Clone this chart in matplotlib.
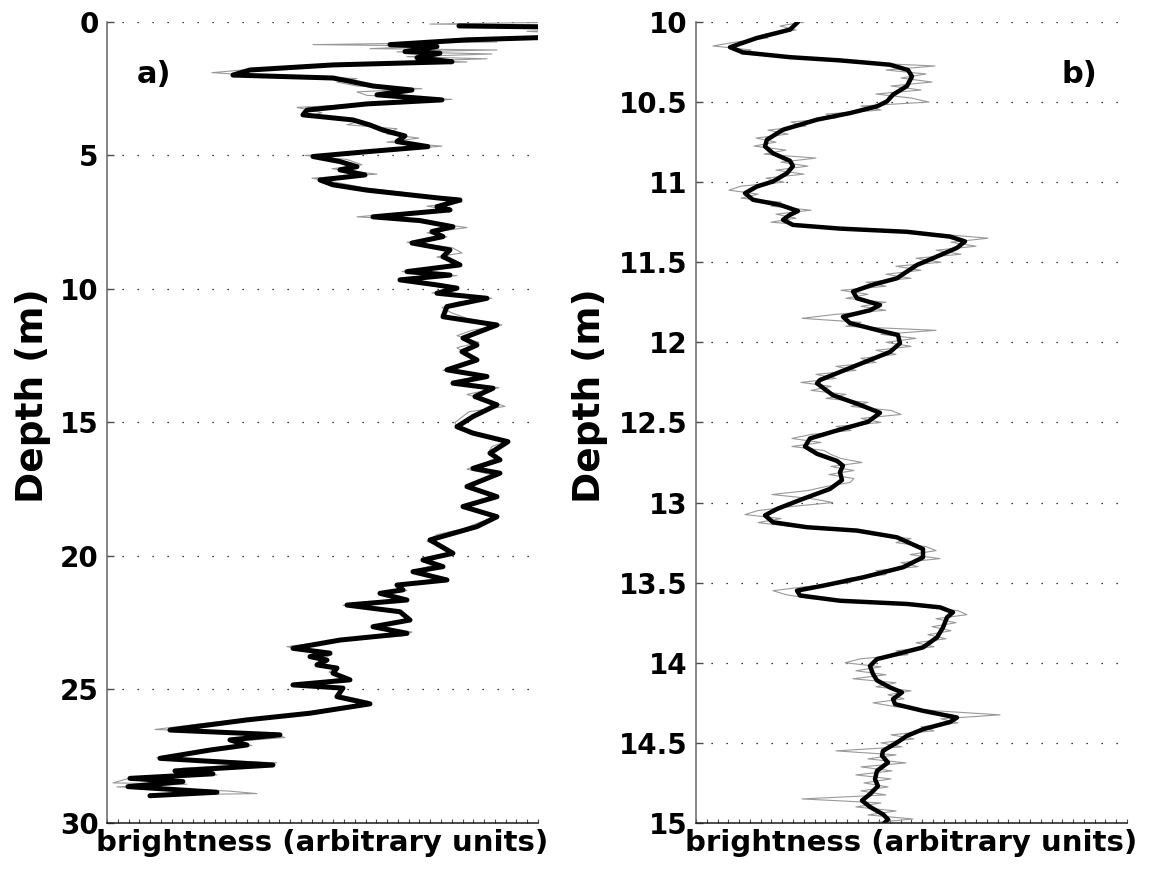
import numpy as np
import matplotlib
matplotlib.use("Agg")
import matplotlib.pyplot as plt
from matplotlib.ticker import FormatStrFormatter

plt.rcParams['font.family'] = ['DejaVu Sans']
plt.rcParams['font.weight'] = 'bold'

# ---- panel a: whole core, 0-30 m ----
# smoothed brightness profile (depth in m, brightness in arbitrary units)
smooth_a_depth = [0.15, 0.2, 0.55, 0.59, 0.67, 0.85, 0.92, 1.11, 1.17, 1.34, 1.49, 1.61, 1.8, 1.99,
                  2.1, 2.2, 2.4, 2.55, 2.73, 2.92, 3.07, 3.3, 3.48, 3.67, 3.86, 4.05, 4.27, 4.48,
                  4.67, 4.86, 5.04, 5.23, 5.42, 5.54, 5.73, 5.92, 6.1, 6.3, 6.6, 6.67, 6.92, 7.04,
                  7.3, 7.44, 7.67, 7.85, 8.04, 8.28, 8.54, 8.79, 9.1, 9.35, 9.48, 9.66, 9.85, 9.97,
                  10.16, 10.35, 10.66, 11.04, 11.35, 11.84, 12.1, 12.35, 12.66, 13.03, 13.28, 13.53,
                  13.72, 14.03, 14.34, 14.78, 15.16, 15.4, 15.72, 16.15, 16.4, 16.72, 16.9, 17.4,
                  17.78, 18.15, 18.53, 18.9, 19.4, 19.9, 20.15, 20.4, 20.59, 20.9, 21.09, 21.27,
                  21.4, 21.65, 21.84, 22.09, 22.4, 22.65, 22.9, 23.15, 23.46, 23.64, 23.77, 23.9,
                  24.08, 24.2, 24.39, 24.64, 24.83, 24.95, 25.27, 25.54, 25.89, 26.14, 26.52, 26.7,
                  26.89, 27.08, 27.27, 27.58, 27.83, 28.05, 28.16, 28.33, 28.45, 28.64, 28.85, 28.98]
smooth_a = [352, 470, 470, 430, 360, 283, 330, 298, 333, 310, 345, 226, 143, 126,
            226, 240, 266, 305, 270, 335, 260, 200, 196, 246, 263, 276, 298, 290,
            321, 260, 206, 233, 250, 233, 258, 213, 226, 260, 333, 353, 330, 343,
            266, 313, 346, 325, 336, 305, 343, 336, 353, 300, 343, 293, 330, 350,
            330, 380, 340, 336, 390, 356, 370, 355, 370, 340, 380, 346,
            386, 368, 390, 366, 350, 366, 401, 383, 393, 366, 393, 360,
            390, 356, 390, 370, 323, 346, 316, 336, 306, 340, 290, 296,
            273, 300, 240, 293, 303, 266, 300, 233, 186, 223, 203, 220,
            210, 230, 226, 243, 186, 236, 230, 263, 203, 140, 63, 173,
            123, 140, 103, 53, 166, 68, 106, 23, 76, 21, 110, 43]

# raw brightness samples
raw_a_depth = [0.0, 0.08, 0.12, 0.3, 0.35, 0.45, 0.62, 0.68, 0.75, 0.85, 0.9, 1.0, 1.05, 1.12,
               1.2, 1.3, 1.38, 1.45, 1.5, 1.6, 1.75, 1.9, 1.98, 2.05, 2.12, 2.25, 2.4, 2.5,
               2.62, 2.75, 2.9, 3.05, 3.2, 3.4, 3.55, 3.7, 3.85, 4.0, 4.2, 4.35, 4.5, 4.65,
               4.8, 5.0, 5.15, 5.35, 5.5, 5.7, 5.85, 6.05, 6.2, 6.45, 6.6, 6.75, 6.9, 7.05,
               7.2, 7.3, 7.45, 7.6, 7.7, 7.9, 8.05, 8.25, 8.45, 8.65, 8.8, 9.0, 9.2, 9.35,
               9.5, 9.7, 9.85, 10.0, 10.15, 10.35, 10.5, 10.7, 10.9, 11.1, 11.35, 11.55, 11.75,
               12.0, 12.2, 12.45, 12.65, 12.85, 13.05, 13.25, 13.45, 13.7, 13.95, 14.2, 14.4,
               14.6, 14.8, 15.0, 15.2, 15.45, 15.7, 15.9, 16.1, 16.35, 16.55, 16.75, 17.0,
               17.2, 17.45, 17.65, 17.9, 18.1, 18.35, 18.55, 18.75, 19.0, 19.2, 19.45, 19.7,
               19.9, 20.1, 20.3, 20.5, 20.7, 20.95, 21.1, 21.3, 21.45, 21.7, 21.85, 22.05,
               22.25, 22.4, 22.6, 22.85, 23.0, 23.15, 23.4, 23.55, 23.7, 23.85, 24.0, 24.15,
               24.35, 24.55, 24.75, 24.85, 25.0, 25.2, 25.45, 25.6, 25.8, 26.0, 26.1, 26.3,
               26.5, 26.65, 26.8, 26.95, 27.1, 27.3, 27.55, 27.75, 27.95, 28.1, 28.2, 28.35,
               28.5, 28.55, 28.65, 28.8, 28.9, 28.95, 29.0]
raw_a = [470, 323, 470, 470, 420, 470, 420, 340, 390, 206, 330, 263, 390, 290,
         385, 300, 380, 320, 360, 240, 150, 105, 140, 200, 250, 230, 250, 315,
         250, 260, 345, 270, 190, 215, 200, 255, 240, 290, 280, 312, 280, 335,
         290, 198, 240, 255, 225, 270, 205, 235, 255, 310, 345, 355, 320, 345,
         280, 250, 320, 340, 360, 320, 340, 300, 345, 355, 330, 350, 330, 295,
         350, 295, 320, 345, 325, 385, 350, 335, 345, 360, 395, 365, 350,
         372, 350, 360, 372, 350, 336, 378, 345, 392, 360, 383, 398,
         362, 355, 348, 350, 375, 400, 385, 382, 388, 375, 360, 390,
         372, 358, 385, 378, 358, 375, 388, 372, 355, 330, 320, 340,
         345, 318, 330, 312, 325, 338, 290, 300, 275, 300, 236, 290,
         300, 305, 268, 305, 295, 230, 180, 210, 225, 215, 210, 230,
         222, 240, 205, 186, 235, 232, 262, 250, 210, 175, 140, 90,
         48, 165, 178, 125, 145, 100, 50, 170, 75, 90, 110, 20,
         6, 80, 10, 120, 150, 60, 45]

depth_ticks_a = [0, 5, 10, 15, 20, 25, 30]

# ---- panel b: detail, 10-15 m ----
smooth_b_depth = [10.0, 10.048, 10.1, 10.158, 10.19, 10.22, 10.24, 10.267, 10.3, 10.34, 10.4, 10.454,
                  10.496, 10.527, 10.569, 10.61, 10.673, 10.735, 10.777, 10.82, 10.867, 10.9, 10.944,
                  10.996, 11.027, 11.069, 11.11, 11.142, 11.18, 11.204, 11.235, 11.267, 11.29, 11.31,
                  11.34, 11.37, 11.41, 11.475, 11.517, 11.558, 11.6, 11.64, 11.683, 11.725, 11.767,
                  11.8, 11.84, 11.88, 11.923, 11.954, 12.006, 12.06, 12.16, 12.235, 12.256, 12.33,
                  12.39, 12.44, 12.496, 12.55, 12.6, 12.65, 12.696, 12.74, 12.77, 12.81, 12.86,
                  12.915, 12.977, 13.04, 13.08, 13.123, 13.154, 13.175, 13.217, 13.29, 13.342,
                  13.404, 13.467, 13.519, 13.55, 13.58, 13.613, 13.633, 13.654, 13.685, 13.717,
                  13.78, 13.842, 13.904, 13.946, 13.977, 14.02, 14.07, 14.11, 14.154, 14.185,
                  14.227, 14.258, 14.3, 14.342, 14.37, 14.415, 14.456, 14.498, 14.55, 14.58,
                  14.623, 14.675, 14.727, 14.77, 14.82, 14.86, 14.9, 14.946, 14.977, 15.01]
smooth_b = [102, 94, 61, 34, 47, 94, 144, 194, 212, 216, 211, 197,
            191, 181, 154, 121, 87, 71, 69, 77, 94, 97, 91,
            77, 61, 49, 57, 84, 102, 94, 87, 97, 144, 211,
            254, 269, 261, 237, 221, 211, 201, 177, 157, 161, 184,
            174, 147, 154, 181, 202, 204, 194, 154, 124, 121, 137,
            164, 184, 172, 141, 114, 109, 121, 141, 147, 144, 146,
            134, 107, 81, 69, 77, 111, 161, 201, 227, 227,
            207, 167, 127, 101, 104, 144, 211, 244, 257, 251,
            247, 241, 227, 201, 181, 174, 177, 181, 194, 206,
            197, 199, 227, 261, 254, 227, 211, 201, 187, 186,
            192, 181, 179, 182, 174, 166, 174, 187, 192, 187]

# raw samples every 2.5 cm from 10 m down
raw_b = [108, 84, 100, 70, 72, 40, 17, 55,
         45, 120, 150, 239, 190, 230, 205, 236,
         195, 225, 180, 215, 233, 165, 185, 130,
         140, 95, 110, 72, 92, 60, 80, 58,
         90, 68, 120, 85, 112, 80, 108, 70,
         88, 45, 33, 62, 45, 85, 75, 115,
         80, 100, 75, 125, 160, 245, 292, 255,
         280, 240, 265, 220, 245, 200, 225, 190,
         215, 170, 190, 145, 172, 150, 190, 165,
         190, 140, 106, 165, 150, 240, 185, 220,
         190, 215, 180, 200, 165, 180, 140, 160,
         120, 140, 105, 135, 115, 150, 130, 172,
         155, 195, 205, 165, 185, 140, 155, 115,
         96, 125, 96, 128, 135, 145, 166, 135,
         158, 133, 158, 154, 130, 112, 76, 115,
         137, 95, 62, 49, 85, 62, 95, 170,
         175, 215, 200, 230, 240, 214, 244, 205,
         222, 180, 190, 150, 155, 110, 77, 90,
         115, 200, 225, 262, 271, 240, 260, 236,
         255, 232, 250, 220, 238, 200, 212, 165,
         149, 185, 160, 190, 157, 200, 180, 215,
         192, 208, 177, 200, 240, 304, 245, 262,
         225, 238, 195, 218, 185, 206, 140, 200,
         172, 210, 165, 196, 160, 195, 168, 192,
         165, 190, 106, 185, 160, 200, 172, 217,
         175]
raw_b_depth = 10.0 + 0.025 * np.arange(len(raw_b))

depth_ticks_b = [10, 10.5, 11, 11.5, 12, 12.5, 13, 13.5, 14, 14.5, 15]

x_max = 431

fig = plt.figure(figsize=(11.5, 8.74), dpi=100)
ax_a = fig.add_axes([0.0930, 0.0584, 0.3748, 0.9165])
ax_b = fig.add_axes([0.6052, 0.0584, 0.3748, 0.9165])


def style_axis(ax, ticks, ylim, ylabel_x):
    ax.set_xlim(0, x_max)
    ax.set_ylim(*ylim)
    ax.set_yticks(ticks)
    ax.yaxis.set_major_formatter(FormatStrFormatter('%g'))
    ax.set_xticks(np.linspace(0, x_max, 41))
    ax.set_xticklabels([])
    ax.tick_params(axis='y', direction='in', length=5, width=1, labelsize=20, pad=6,
                   color='0.3')
    ax.tick_params(axis='x', direction='in', length=3, width=0.8, color='0.3')
    for lab in ax.get_yticklabels():
        lab.set_fontweight('bold')
    ax.spines['top'].set_visible(False)
    ax.spines['right'].set_visible(False)
    ax.spines['left'].set_color('0.4')
    ax.spines['bottom'].set_color('0.1')
    ax.spines['left'].set_linewidth(1.1)
    ax.spines['bottom'].set_linewidth(1.1)
    ax.yaxis.grid(True, color='black', linestyle=(0, (1, 11)), linewidth=0.9)
    ax.set_axisbelow(True)
    ax.set_xlabel('brightness (arbitrary units)', fontsize=21, fontweight='bold', labelpad=1)
    ax.set_ylabel('Depth (m)', fontsize=27, fontweight='bold', va='center')
    ax.yaxis.set_label_coords(ylabel_x, 0.534)


ax_a.plot(raw_a, raw_a_depth, color='0.6', linewidth=0.8)
ax_a.plot(smooth_a, smooth_a_depth, color='black', linewidth=3.6, solid_joinstyle='round',
          solid_capstyle='round')
style_axis(ax_a, depth_ticks_a, (30, 0), -0.172)
ax_a.text(0.07, 0.935, 'a)', transform=ax_a.transAxes, fontsize=22, fontweight='bold',
          ha='left', va='center')

ax_b.plot(raw_b, raw_b_depth, color='0.6', linewidth=0.8)
ax_b.plot(smooth_b, smooth_b_depth, color='black', linewidth=3.2, solid_joinstyle='round',
          solid_capstyle='round')
style_axis(ax_b, depth_ticks_b, (15, 10), -0.246)
ax_b.text(0.849, 0.935, 'b)', transform=ax_b.transAxes, fontsize=22, fontweight='bold',
          ha='left', va='center')

fig.savefig('out.png', dpi=100)
